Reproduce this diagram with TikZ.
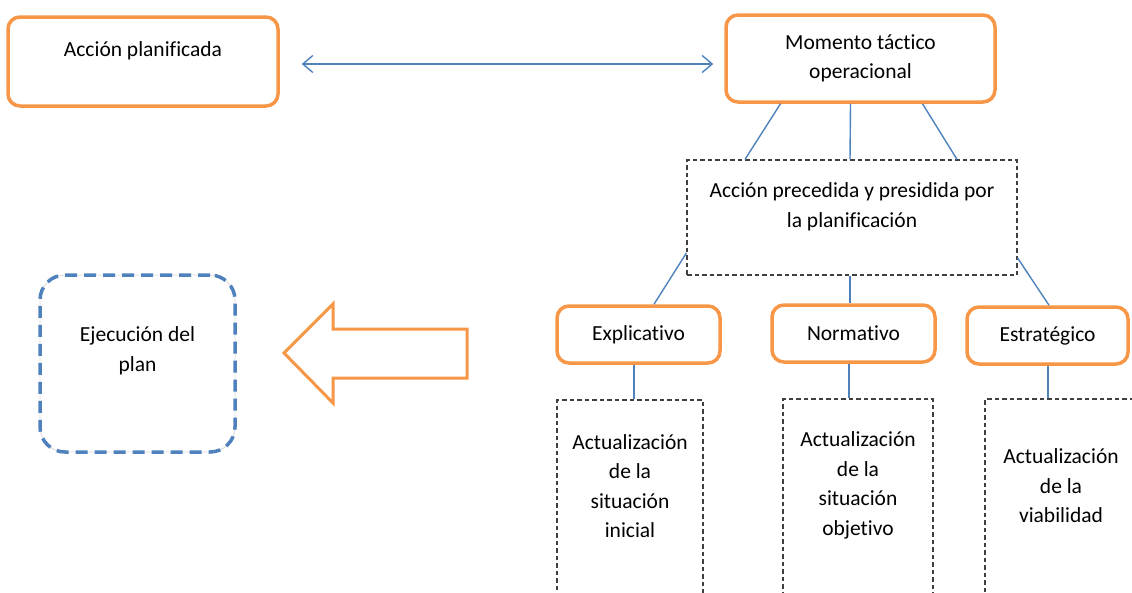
\documentclass[tikz,border=0pt]{standalone}
\usepackage{fontspec}
\setmainfont{Carlito}[Ligatures=NoCommon]
\usepackage{tikz}
\usetikzlibrary{calc,arrows.meta}

\begin{document}
\begin{tikzpicture}[x=1pt,y=-1pt,
  font=\fontsize{21.5}{29.5}\selectfont,
  obox/.style={draw=acc, line width=3.5pt, rounded corners=12pt},
  dbox/.style={draw=black!75, line width=1.2pt, dash pattern=on 4.5pt off 3pt},
  ebox/.style={draw=lnk, line width=3.5pt, dash pattern=on 12pt off 7pt, rounded corners=25pt,
    preaction={draw=black!15, line width=0.8pt, solid}},
  link/.style={draw=lnk, line width=1.4pt},
  txt/.style={align=center, anchor=center}]
  \definecolor{acc}{RGB}{247,150,70}
  \definecolor{lnk}{RGB}{79,129,189}
  \clip (0,0) rectangle (1132,592);
  % top row
  \node[obox, minimum width=270pt, minimum height=89pt,
    label={[txt, yshift=-36pt]north:Acción planificada}] (ap) at (143,61.5) {};
  \node[obox, minimum width=269pt, minimum height=87pt, txt] (mto) at (860.5,58.5) {Momento táctico\\operacional};
  \draw[link, {Straight Barb[length=10pt,width=17pt]}-{Straight Barb[length=10pt,width=17pt]}]
    ($(ap.east)+(22,2.5)$) -- ($(mto.west)+(-11,5.5)$);
  \node[dbox, minimum width=330pt, minimum height=115pt,
    label={[txt, yshift=-47.5pt]north:{Acción precedida y presidida por\\la planificación}}] (apr) at (852,217.5) {};
  \draw[link] ($(mto.south)+(-80,0)$) -- ($(apr.north)+(-107,0)$);
  \draw[link] ($(mto.south)+(-10,0)$) -- ($(apr.north)+(-2,0)$);
  \draw[link] ($(mto.south)+(62,0)$) -- ($(apr.north)+(105,0)$);
  % three moments
  \node[obox, minimum width=163pt, minimum height=57pt] (expl) at (638.5,334.5) {Explicativo};
  \node[obox, minimum width=163pt, minimum height=57pt] (norm) at (853.5,333.5) {Normativo};
  \node[obox, minimum width=161pt, minimum height=57pt] (estr) at (1047.5,335.5) {Estratégico};
  \draw[link] ($(apr.west)+(0,35.5)$) -- ($(expl.north)+(15.5,0)$);
  \draw[link] ($(apr.south)+(-2,0)$) -- ($(norm.north)+(-3.5,0)$);
  \draw[link] ($(apr.east)+(0,40.5)$) -- ($(estr.north)+(1.5,0)$);
  % updates
  \node[dbox, minimum width=146pt, minimum height=220pt,
    label={[txt, yshift=-86.5pt]north:{Actualización\\de la\\situación\\inicial}}] (act1) at (630,510) {};
  \node[dbox, minimum width=150pt, minimum height=220pt,
    label={[txt, yshift=-87pt]north:{Actualización\\de la\\situación\\objetivo}}] (act2) at (858,509) {};
  \node[dbox, minimum width=152pt, minimum height=220pt,
    label={[txt, yshift=-87.5pt]north:{Actualización\\de la\\viabilidad}}] (act3) at (1061,509) {};
  \draw[link] ($(expl.south)+(-4.5,0)$) -- ($(act1.north)+(4,0)$);
  \draw[link] ($(norm.south)+(-4.5,0)$) -- ($(act2.north)+(-9,0)$);
  \draw[link] ($(estr.south)+(0.5,0)$) -- ($(act3.north)+(-13,0)$);
  % execution
  \node[ebox, minimum width=195pt, minimum height=177pt,
    label={[txt, yshift=-77.5pt]north:{Ejecución del\\plan}}] (ejc) at (137.5,363.5) {};
  \draw[acc, line width=3pt] (284,353) -- (333,304) -- (333,329) -- (467,329)
    -- (467,378) -- (333,378) -- (333,403) -- cycle;
\end{tikzpicture}
\end{document}
